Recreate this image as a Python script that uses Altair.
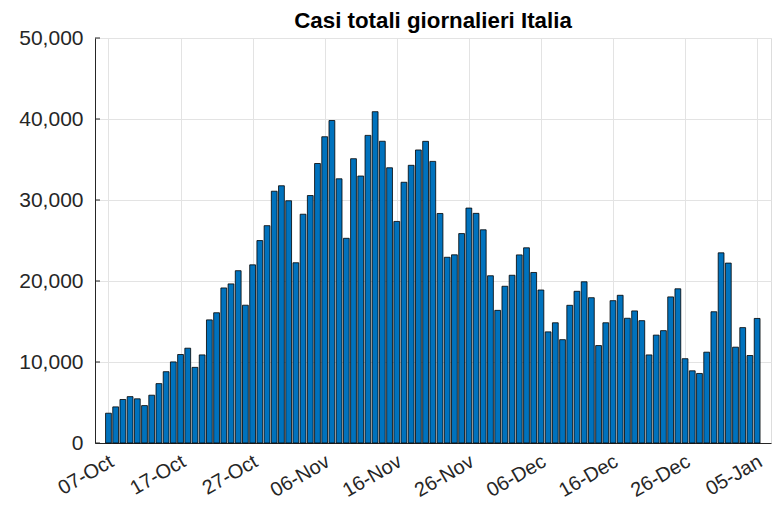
import altair as alt
import pandas as pd

# ---- data ----
dates = pd.date_range("2020-10-07", "2021-01-05", freq="D").strftime("%Y-%m-%d").tolist()

cases_oct = [3678, 4458, 5372, 5724, 5456, 4619, 5901, 7332, 8804, 10010,
             10925, 11705, 9338, 10874, 15199, 16079, 19143, 19644, 21273, 17012,
             21994, 24991, 26831, 31084, 31758]
cases_nov = [29907, 22253, 28244, 30550, 34505, 37809, 39811, 32616, 25271, 35098,
             32961, 37978, 40902, 37255, 33979, 27354, 32191, 34283, 36176, 37242,
             34767, 28337, 22930, 23232, 25853, 29003, 28352, 26323, 20648, 16377]
cases_dec = [19350, 20709, 23225, 24099, 21052, 18887, 13720, 14842, 12756, 16999,
             18727, 19903, 17938, 12030, 14844, 17572, 18236, 15400, 16308, 15104,
             10872, 13318, 13870, 18040, 19037, 10407, 8913, 8585, 11212, 16202,
             23477]
cases_jan = [22211, 11831, 14245, 10800, 15378]
cases = cases_oct + cases_nov + cases_dec + cases_jan

x_tick_dates = ["2020-10-07", "2020-10-17", "2020-10-27", "2020-11-06", "2020-11-16",
                "2020-11-26", "2020-12-06", "2020-12-16", "2020-12-26", "2021-01-05"]
y_ticks = [0, 10000, 20000, 30000, 40000, 50000]
title_text = "Casi totali giornalieri Italia"

df = pd.DataFrame({"date": dates, "cases": cases})
ticks_df = pd.DataFrame({"v": y_ticks})


def ms(d):
    return int(pd.Timestamp(d, tz="UTC").timestamp() * 1000)


DAY = 86400000
x_domain = [ms("2020-10-07") - int(1.175 * DAY), ms("2021-01-05") + int(1.23 * DAY)]
x_values = [ms(d) for d in x_tick_dates]

FONT = "Liberation Sans"
AX = "#262626"

x_enc = alt.X(
    "date:T",
    scale=alt.Scale(type="utc", domain=x_domain, nice=False),
    axis=alt.Axis(
        values=x_values,
        labelExpr="utcFormat(datum.value, '%d-%b')",
        title=None,
        grid=True,
        gridColor="#e3e3e3",
        gridWidth=1,
        ticks=False,
        domainColor=AX,
        domainWidth=1,
        labelAngle=330,
        labelAlign="right",
        labelBaseline="top",
        labelPadding=8,
        labelOffset=-2,
        labelFont=FONT,
        labelFontSize=20,
        labelColor=AX,
        labelFlush=False,
        labelOverlap=False,
        zindex=0,
    ),
)

y_scale = alt.Scale(domain=[0, 50000], nice=False, zero=True)

bars = alt.Chart(df).mark_bar(
    size=5.8, color="#0072BD", stroke="#000000", strokeWidth=0.8
).encode(
    x=x_enc,
    y=alt.Y(
        "cases:Q",
        scale=y_scale,
        axis=alt.Axis(
            values=y_ticks,
            format=",d",
            title=None,
            grid=True,
            gridColor="#e3e3e3",
            gridWidth=1,
            ticks=False,
            domainColor=AX,
            domainWidth=1,
            labelPadding=12,
            labelFont=FONT,
            labelFontSize=21,
            labelColor=AX,
            labelFlush=False,
            labelOverlap=False,
            zindex=0,
        ),
    ),
)

inner_ticks = alt.Chart(ticks_df).mark_rule(color=AX, strokeWidth=1).encode(
    y=alt.Y("v:Q", scale=y_scale),
    x=alt.value(0),
    x2=alt.value(5),
)

chart = (
    alt.layer(bars, inner_ticks)
    .properties(
        width=676,
        height=405,
        padding={"left": 87, "top": 30, "right": 3, "bottom": 58},
        autosize=alt.AutoSizeParams(type="none"),
        title=alt.Title(
            title_text,
            font=FONT,
            fontSize=22.3,
            fontWeight="bold",
            color="#000000",
            anchor="middle",
            offset=4,
            dy=9,
        ),
    )
    .configure_view(stroke=None)
    .configure(background="white")
)

chart.save("out.html", embed_options={"renderer": "svg", "actions": False})
